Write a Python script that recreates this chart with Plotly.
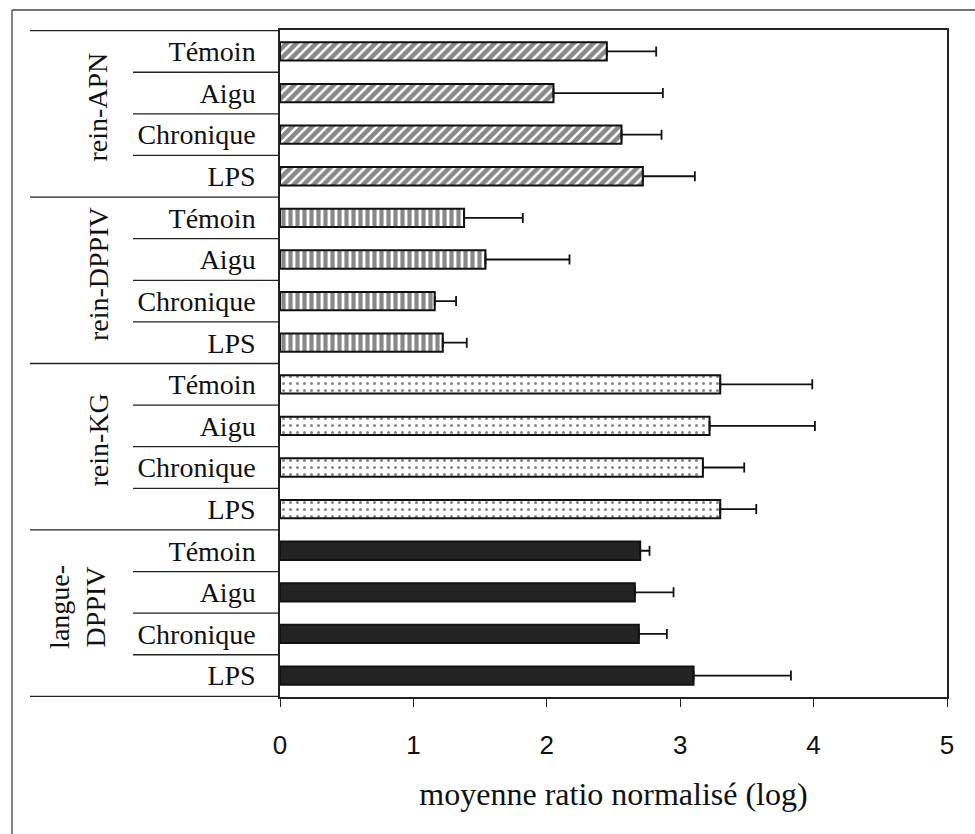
import plotly.graph_objects as go

groups = ["rein-APN", "rein-DPPIV", "rein-KG", "langue-DPPIV"]
group_labels = ["rein-APN", "rein-DPPIV", "rein-KG", "langue-<br>DPPIV"]
conditions = ["Témoin", "Aigu", "Chronique", "LPS"]

apn_mean = [2.45, 2.05, 2.56, 2.72]
apn_err = [0.37, 0.82, 0.30, 0.39]
dppiv_mean = [1.38, 1.54, 1.16, 1.22]
dppiv_err = [0.44, 0.63, 0.16, 0.18]
kg_mean = [3.30, 3.22, 3.17, 3.30]
kg_err = [0.69, 0.79, 0.31, 0.27]
langue_mean = [2.70, 2.66, 2.69, 3.10]
langue_err = [0.07, 0.29, 0.21, 0.73]

x_ticks = [0, 1, 2, 3, 4, 5]
x_title = "moyenne ratio normalisé (log)"

means = [apn_mean, dppiv_mean, kg_mean, langue_mean]
errs = [apn_err, dppiv_err, kg_err, langue_err]
patterns = [
    dict(shape="/", size=7, solidity=0.65, fgcolor="#111111", bgcolor="white"),
    dict(shape="|", size=7, solidity=0.6, fgcolor="#111111", bgcolor="white"),
    dict(shape=".", size=7, solidity=0.15, fgcolor="#111111", bgcolor="white"),
    dict(shape="", fgcolor="#222222", bgcolor="#222222"),
]
fills = ["white", "white", "white", "#232323"]

serif = "Liberation Serif, Times New Roman, serif"
sans = "Liberation Sans, Arial, sans-serif"

keys = [f"{g}|{c}" for g in groups for c in conditions]
ticktext = [c for g in groups for c in conditions]

fig = go.Figure()
for gi, g in enumerate(groups):
    fig.add_trace(go.Bar(
        orientation="h",
        y=[f"{g}|{c}" for c in conditions],
        x=means[gi],
        marker=dict(color=fills[gi], line=dict(color="#111111", width=2),
                    pattern=patterns[gi]),
        error_x=dict(type="data", symmetric=False, array=errs[gi],
                     arrayminus=[0] * len(conditions),
                     color="#111111", thickness=1.8, width=5),
        showlegend=False,
    ))

L, R, T, B = 280, 28, 30, 137
W, H = 975, 834
pw, ph = W - L - R, H - T - B

def px(xp):
    return (xp - L) / pw

def py(yp):
    return (H - B - yp) / ph

shapes = []
n = len(keys)
for i in range(n + 1):
    yb = i - 0.5
    x0 = px(30) if i % len(conditions) == 0 else px(133)
    shapes.append(dict(type="line", xref="paper", yref="y", x0=x0, x1=0,
                       y0=yb, y1=yb, line=dict(color="#222222", width=1.3)))
shapes.append(dict(type="line", xref="paper", yref="paper", x0=px(12), x1=px(975),
                   y0=py(10), y1=py(10), line=dict(color="#444444", width=1.3)))
shapes.append(dict(type="line", xref="paper", yref="paper", x0=px(12), x1=px(12),
                   y0=py(10), y1=py(834), line=dict(color="#444444", width=1.3)))

annotations = []
for gi, gl in enumerate(group_labels):
    yc = gi * len(conditions) + (len(conditions) - 1) / 2
    annotations.append(dict(text=gl, xref="paper", yref="y", x=px(98 if gi < 3 else 78), y=yc - 0.15,
                            textangle=-90, showarrow=False,
                            font=dict(family=serif, size=28, color="#111111"),
                            xanchor="center", yanchor="middle"))

fig.update_layout(
    width=W, height=H,
    margin=dict(l=L, r=R, t=T, b=B),
    paper_bgcolor="white", plot_bgcolor="white",
    barmode="overlay", bargap=0.56,
    shapes=shapes, annotations=annotations,
    xaxis=dict(range=[0, 5], tickvals=x_ticks, ticks="outside", ticklen=8,
               tickcolor="#222222", showline=True, linecolor="#222222", linewidth=1.5,
               mirror=True, showgrid=False, zeroline=False,
               ticklabelstandoff=16,
               tickfont=dict(family=sans, size=26, color="#111111"),
               title=dict(text=x_title, font=dict(family=serif, size=32, color="#111111"),
                          standoff=24)),
    yaxis=dict(type="category", categoryorder="array", categoryarray=keys,
               autorange="reversed", tickvals=keys, ticktext=ticktext,
               ticks="", showline=True, linecolor="#222222", linewidth=1.5,
               mirror=True, showgrid=False, zeroline=False,
               ticklabelstandoff=17,
               tickfont=dict(family=serif, size=28, color="#111111")),
)

fig.write_html("out.html")
